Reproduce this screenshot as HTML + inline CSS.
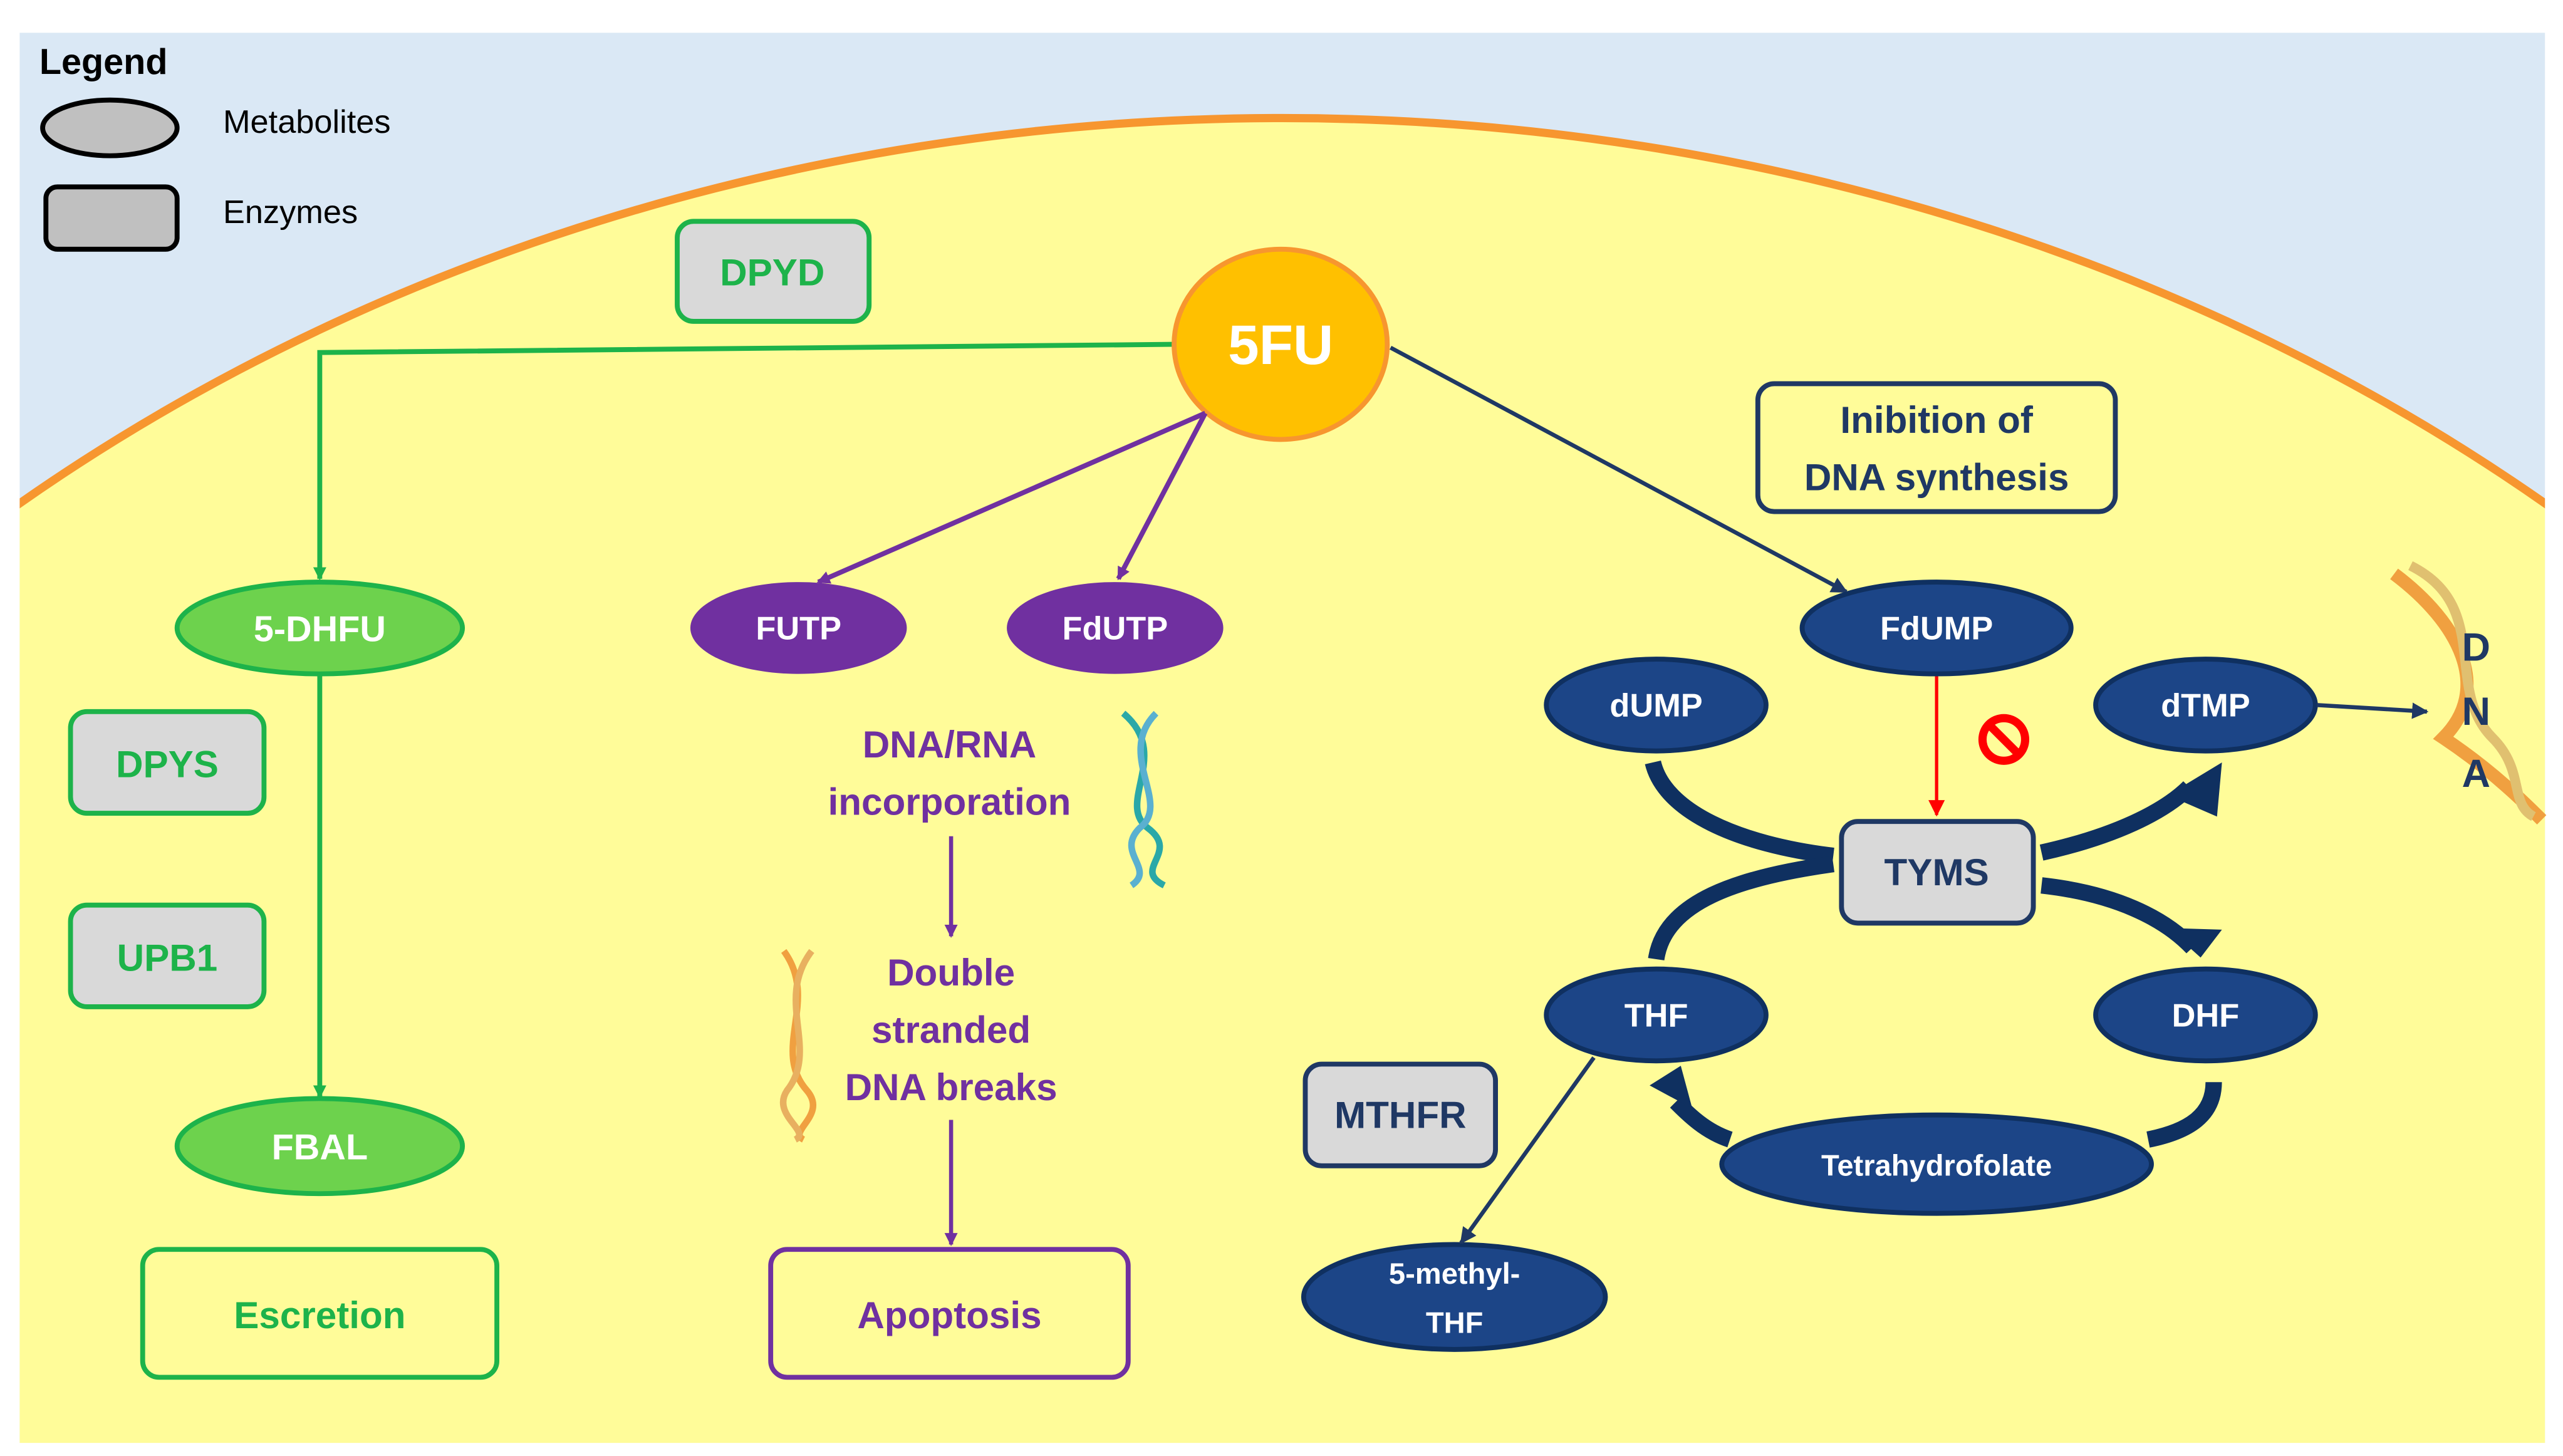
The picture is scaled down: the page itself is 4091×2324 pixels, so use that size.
<!DOCTYPE html>
<html><head><meta charset="utf-8"><style>
html,body{margin:0;padding:0;background:#fff;width:4091px;height:2324px;overflow:hidden;}
svg{display:block;}
text{font-family:"Liberation Sans",sans-serif;}
</style></head><body>
<svg width="4091" height="2324" viewBox="0 0 1563 888" preserveAspectRatio="none" xmlns="http://www.w3.org/2000/svg">
<defs>
<clipPath id="bg"><rect x="12" y="20" width="1540" height="860"/></clipPath>
<marker id="ag" markerWidth="8" markerHeight="8" refX="7" refY="4" orient="auto" markerUnits="userSpaceOnUse"><path d="M0,0 L8,4 L0,8z" fill="#1db34a"/></marker>
<marker id="ap" markerWidth="8" markerHeight="8" refX="7" refY="4" orient="auto" markerUnits="userSpaceOnUse"><path d="M0,0 L8,4 L0,8z" fill="#7030a0"/></marker>
<marker id="an" markerWidth="10" markerHeight="10" refX="9" refY="5" orient="auto" markerUnits="userSpaceOnUse"><path d="M0,0 L10,5 L0,10z" fill="#1f3864"/></marker>
<marker id="ar" markerWidth="10" markerHeight="10" refX="9" refY="5" orient="auto" markerUnits="userSpaceOnUse"><path d="M0,0 L10,5 L0,10z" fill="#ff0000"/></marker>
</defs>
<rect x="12" y="20" width="1540" height="860" fill="#dae8f5"/>
<g clip-path="url(#bg)">
<ellipse cx="782" cy="1100" rx="1210" ry="1028" fill="#fffc99" stroke="#f7962f" stroke-width="5"/>
</g>
<text x="24" y="45" font-size="22" font-weight="bold" fill="#000">Legend</text>
<ellipse cx="67" cy="78" rx="41" ry="17" fill="#c0c0c0" stroke="#000" stroke-width="3"/>
<text x="136" y="81" font-size="20" fill="#000">Metabolites</text>
<rect x="28" y="114" width="80" height="38" rx="7" fill="#c0c0c0" stroke="#000" stroke-width="3"/>
<text x="136" y="136" font-size="20" fill="#000">Enzymes</text>

<rect x="413" y="135" width="117" height="61" rx="10" fill="#d9d9d9" stroke="#1db34a" stroke-width="3"/>
<text x="471" y="174" font-size="23" font-weight="bold" fill="#1db34a" text-anchor="middle">DPYD</text>
<polyline points="716,210 195,215 195,353" fill="none" stroke="#1db34a" stroke-width="3" marker-end="url(#ag)"/>
<ellipse cx="195" cy="383" rx="87" ry="28" fill="#6dd24d" stroke="#1db34a" stroke-width="3"/>
<text x="195" y="391" font-size="22" font-weight="bold" fill="#fff" text-anchor="middle">5-DHFU</text>
<line x1="195" y1="411" x2="195" y2="669" stroke="#1db34a" stroke-width="3" marker-end="url(#ag)"/>
<rect x="43" y="434" width="118" height="62" rx="10" fill="#d9d9d9" stroke="#1db34a" stroke-width="3"/>
<text x="102" y="474" font-size="23" font-weight="bold" fill="#1db34a" text-anchor="middle">DPYS</text>
<rect x="43" y="552" width="118" height="62" rx="10" fill="#d9d9d9" stroke="#1db34a" stroke-width="3"/>
<text x="102" y="592" font-size="23" font-weight="bold" fill="#1db34a" text-anchor="middle">UPB1</text>
<ellipse cx="195" cy="699" rx="87" ry="29" fill="#6dd24d" stroke="#1db34a" stroke-width="3"/>
<text x="195" y="707" font-size="22" font-weight="bold" fill="#fff" text-anchor="middle">FBAL</text>
<rect x="87" y="762" width="216" height="78" rx="10" fill="none" stroke="#1db34a" stroke-width="3"/>
<text x="195" y="810" font-size="23" font-weight="bold" fill="#1db34a" text-anchor="middle">Escretion</text>

<ellipse cx="781" cy="210" rx="65" ry="58" fill="#ffc000" stroke="#f7962f" stroke-width="3"/>
<text x="781" y="222" font-size="34" font-weight="bold" fill="#fff" text-anchor="middle">5FU</text>

<line x1="735" y1="252" x2="499" y2="355" stroke="#7030a0" stroke-width="3" marker-end="url(#ap)"/>
<line x1="735" y1="252" x2="682" y2="353" stroke="#7030a0" stroke-width="3" marker-end="url(#ap)"/>
<ellipse cx="487" cy="383" rx="66" ry="28" fill="#7030a0"/>
<text x="487" y="390" font-size="20" font-weight="bold" fill="#fff" text-anchor="middle">FUTP</text>
<ellipse cx="680" cy="383" rx="66" ry="28" fill="#7030a0"/>
<text x="680" y="390" font-size="20" font-weight="bold" fill="#fff" text-anchor="middle">FdUTP</text>
<text x="579" y="462" font-size="23" font-weight="bold" fill="#7030a0" text-anchor="middle">DNA/RNA</text>
<text x="579" y="497" font-size="23" font-weight="bold" fill="#7030a0" text-anchor="middle">incorporation</text>
<line x1="580" y1="510" x2="580" y2="571" stroke="#7030a0" stroke-width="2.5" marker-end="url(#ap)"/>
<text x="580" y="601" font-size="23" font-weight="bold" fill="#7030a0" text-anchor="middle">Double</text>
<text x="580" y="636" font-size="23" font-weight="bold" fill="#7030a0" text-anchor="middle">stranded</text>
<text x="580" y="671" font-size="23" font-weight="bold" fill="#7030a0" text-anchor="middle">DNA breaks</text>
<line x1="580" y1="683" x2="580" y2="759" stroke="#7030a0" stroke-width="2.5" marker-end="url(#ap)"/>
<rect x="470" y="762" width="218" height="78" rx="10" fill="none" stroke="#7030a0" stroke-width="3"/>
<text x="579" y="810" font-size="23" font-weight="bold" fill="#7030a0" text-anchor="middle">Apoptosis</text>
<g stroke-width="4" fill="none">
<path d="M685,435 C715,460 680,490 700,505 C720,520 690,530 710,540" stroke="#2aa8a8"/>
<path d="M705,435 C680,460 715,490 695,505 C680,520 705,530 690,540" stroke="#5ab0d0"/>
<path d="M478,580 C500,610 470,640 492,665 C505,680 480,690 490,695" stroke="#f0a040"/>
<path d="M495,580 C472,610 500,640 480,665 C470,680 495,690 485,695" stroke="#e8b060"/>
<path d="M1460,350 C1500,380 1520,420 1490,450 C1520,470 1540,490 1550,500" stroke="#f0a040" stroke-width="8"/>
<path d="M1470,345 C1520,370 1490,420 1520,450 C1540,470 1530,490 1545,498" stroke="#e0c070" stroke-width="6"/>
</g>
<text x="1510" y="403" font-size="24" font-weight="bold" fill="#1f3864" text-anchor="middle">D</text>
<text x="1510" y="442" font-size="24" font-weight="bold" fill="#1f3864" text-anchor="middle">N</text>
<text x="1510" y="480" font-size="24" font-weight="bold" fill="#1f3864" text-anchor="middle">A</text>

<line x1="848" y1="212" x2="1126" y2="361" stroke="#1f3864" stroke-width="2.5" marker-end="url(#an)"/>
<rect x="1072" y="234" width="218" height="78" rx="10" fill="none" stroke="#1f3864" stroke-width="3"/>
<text x="1181" y="264" font-size="23" font-weight="bold" fill="#1f3864" text-anchor="middle">Inibition of</text>
<text x="1181" y="299" font-size="23" font-weight="bold" fill="#1f3864" text-anchor="middle">DNA synthesis</text>
<line x1="1181" y1="411" x2="1181" y2="497" stroke="#ff0000" stroke-width="2" marker-end="url(#ar)"/>
<circle cx="1222" cy="451" r="13" fill="none" stroke="#ff0000" stroke-width="5"/>
<line x1="1213" y1="442" x2="1231" y2="460" stroke="#ff0000" stroke-width="5"/>

<g fill="none" stroke="#0f3060" stroke-width="10">
<path d="M1008,465 C1015,495 1060,515 1118,522"/>
<path d="M1245,520 C1290,510 1320,495 1335,480"/>
<path d="M1245,540 C1290,545 1320,560 1337,578"/>
<path d="M1118,527 C1060,535 1015,550 1010,585"/>
<path d="M1350,660 C1350,680 1335,690 1310,695"/>
<path d="M1055,695 C1040,690 1030,680 1022,672"/>
</g>
<polygon points="1322,485 1355,465 1352,498" fill="#0f3060"/>
<polygon points="1322,566 1355,567 1342,584" fill="#0f3060"/>
<polygon points="1006,662 1025,650 1032,676" fill="#0f3060"/>

<g fill="#1c4587" stroke="#0f3060" stroke-width="3">
<ellipse cx="1181" cy="383" rx="82" ry="28"/>
<ellipse cx="1010" cy="430" rx="67" ry="28"/>
<ellipse cx="1345" cy="430" rx="67" ry="28"/>
<ellipse cx="1010" cy="619" rx="67" ry="28"/>
<ellipse cx="1345" cy="619" rx="67" ry="28"/>
<ellipse cx="1181" cy="710" rx="131" ry="30"/>
<ellipse cx="887" cy="791" rx="92" ry="32"/>
</g>
<g font-size="20" font-weight="bold" fill="#fff" text-anchor="middle">
<text x="1181" y="390">FdUMP</text>
<text x="1010" y="437">dUMP</text>
<text x="1345" y="437">dTMP</text>
<text x="1010" y="626">THF</text>
<text x="1345" y="626">DHF</text>
<text x="1181" y="717" font-size="18">Tetrahydrofolate</text>
<text x="887" y="783" font-size="18">5-methyl-</text>
<text x="887" y="813" font-size="18">THF</text>
</g>
<rect x="1123" y="501" width="117" height="62" rx="10" fill="#d9d9d9" stroke="#1f3864" stroke-width="3"/>
<text x="1181" y="540" font-size="23" font-weight="bold" fill="#1f3864" text-anchor="middle">TYMS</text>
<rect x="796" y="649" width="116" height="62" rx="10" fill="#d9d9d9" stroke="#1f3864" stroke-width="3"/>
<text x="854" y="688" font-size="23" font-weight="bold" fill="#1f3864" text-anchor="middle">MTHFR</text>
<line x1="972" y1="645" x2="891" y2="758" stroke="#1f3864" stroke-width="2.5" marker-end="url(#an)"/>
<line x1="1413" y1="430" x2="1480" y2="434" stroke="#1f3864" stroke-width="2.5" marker-end="url(#an)"/>
</svg>
</body></html>
